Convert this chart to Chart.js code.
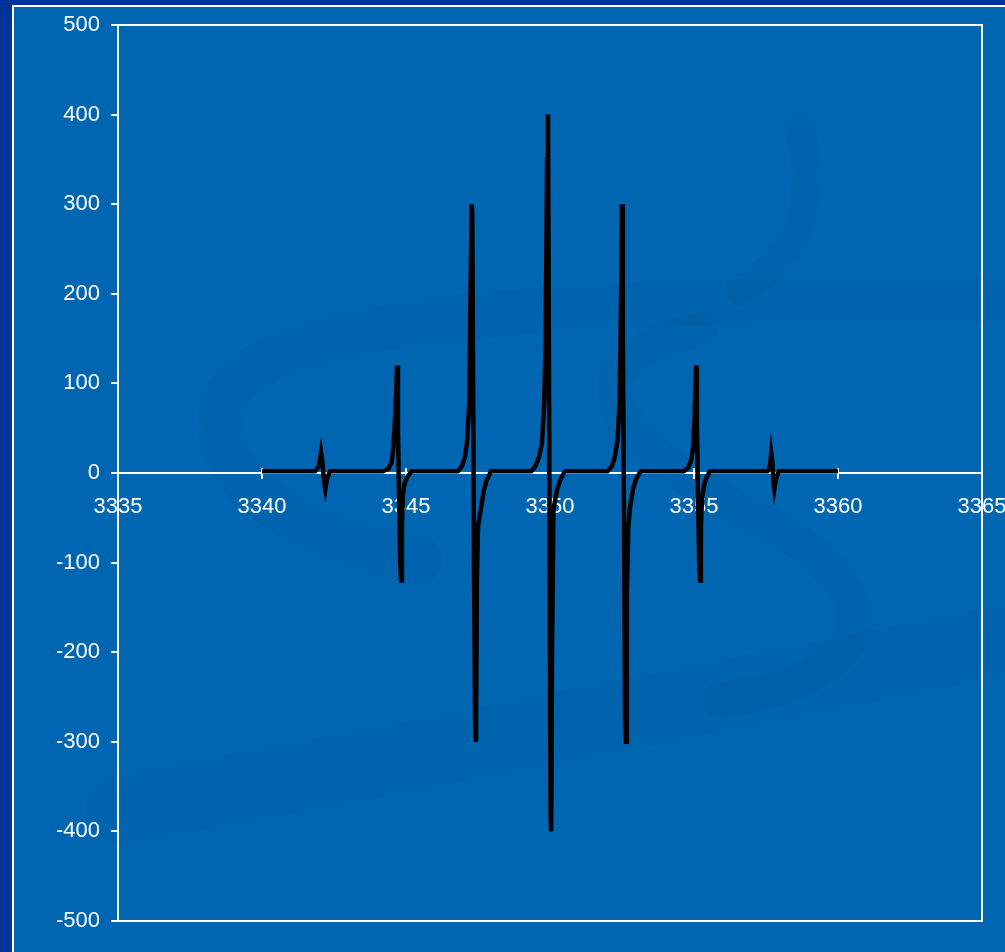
<!DOCTYPE html>
<html>
<head>
<meta charset="utf-8">
<script src="https://cdn.jsdelivr.net/npm/chart.js@4.4.1/dist/chart.umd.min.js"></script>
<style>
html, body { margin: 0; padding: 0; background: #00339a; }
</style>
</head>
<body>
<canvas id="epr" width="1005" height="952"></canvas>
<script>
// magnetic field (x) and signal (y)
var field = [
  3340,
  3341.85, 3341.98, 3342.05, 3342.10, 3342.15, 3342.20, 3342.26, 3342.36,
  3344.20, 3344.40, 3344.50, 3344.56, 3344.62, 3344.66, 3344.69, 3344.72, 3344.76, 3344.80, 3344.83, 3344.86, 3344.89, 3344.95, 3345.05, 3345.20,
  3346.80, 3346.95, 3347.05, 3347.12, 3347.20, 3347.24, 3347.28, 3347.30, 3347.33, 3347.37, 3347.40, 3347.43, 3347.46, 3347.50, 3347.60, 3347.70, 3347.80, 3347.95,
  3349.35, 3349.50, 3349.62, 3349.72, 3349.80, 3349.85, 3349.90, 3349.93, 3349.96, 3349.99, 3350.02, 3350.04, 3350.07, 3350.12, 3350.25, 3350.38, 3350.52,
  3352.00, 3352.15, 3352.25, 3352.35, 3352.42, 3352.47, 3352.50, 3352.53, 3352.57, 3352.61, 3352.64, 3352.67, 3352.72, 3352.78, 3352.88, 3353.00, 3353.15,
  3354.65, 3354.80, 3354.90, 3354.97, 3355.02, 3355.05, 3355.07, 3355.10, 3355.14, 3355.18, 3355.21, 3355.24, 3355.28, 3355.36, 3355.45, 3355.56,
  3357.55, 3357.64, 3357.68, 3357.72, 3357.76, 3357.79, 3357.85, 3357.95,
  3360
];
var signal = [
  2,
  2, 8, 23, 12, -8, -18, -6, 2,
  2, 5, 12, 28, 60, 90, 120, 50, -30, -100, -120, -60, -25, -12, -4, 2,
  2, 8, 18, 35, 80, 200, 300, 290, 100, -150, -280, -300, -120, -60, -40, -20, -8, 2,
  2, 8, 18, 33, 80, 150, 350, 400, 150, -100, -380, -400, -200, -40, -18, -6, 2,
  2, 8, 18, 38, 80, 200, 300, 150, -50, -280, -300, -130, -60, -38, -18, -6, 2,
  2, 6, 14, 29, 60, 100, 120, 60, -30, -100, -120, -60, -27, -12, -4, 2,
  2, 8, 22, 12, -10, -18, -6, 2,
  2
];
var xTicks = [3335, 3340, 3345, 3350, 3355, 3360, 3365];
var yTicks = [-500, -400, -300, -200, -100, 0, 100, 200, 300, 400, 500];

var points = field.map(function (f, i) { return { x: f, y: signal[i] }; });
var font = { family: "'Liberation Sans', Arial, sans-serif", size: 22 };

// slide background: dark edge, blue panel, faint swooshes, white frame
var background = {
  id: 'background',
  beforeDraw: function (chart) {
    var c = chart.ctx;
    c.save();
    c.fillStyle = '#00339a';
    c.fillRect(0, 0, chart.width, chart.height);
    c.fillStyle = '#0066b2';
    c.fillRect(12, 5, chart.width - 12, chart.height - 5);

    c.strokeStyle = 'rgba(0, 45, 110, 0.06)';
    c.lineCap = 'round';
    c.lineWidth = 45;
    c.beginPath();
    c.moveTo(1005, 300);
    c.bezierCurveTo(700, 300, 260, 300, 225, 400);
    c.bezierCurveTo(200, 480, 300, 540, 420, 560);
    c.stroke();
    c.lineWidth = 35;
    c.beginPath();
    c.moveTo(700, 330);
    c.bezierCurveTo(560, 360, 600, 440, 760, 520);
    c.bezierCurveTo(900, 590, 880, 680, 720, 700);
    c.stroke();
    c.lineWidth = 70;
    c.beginPath();
    c.moveTo(120, 810);
    c.bezierCurveTo(400, 760, 700, 700, 1005, 640);
    c.stroke();
    c.lineWidth = 30;
    c.beginPath();
    c.moveTo(800, 130);
    c.bezierCurveTo(820, 220, 790, 260, 740, 290);
    c.stroke();

    c.strokeStyle = '#ffffff';
    c.lineWidth = 2;
    c.strokeRect(13, 6, chart.width + 10, chart.height + 10);
    c.restore();
  }
};

// plot box and x ticks crossing the zero line
var frame = {
  id: 'frame',
  beforeDatasetsDraw: function (chart) {
    var c = chart.ctx, a = chart.chartArea;
    var xs = chart.scales.x, ys = chart.scales.y;
    c.save();
    c.strokeStyle = '#ffffff';
    c.lineWidth = 2;
    c.beginPath();
    c.moveTo(a.left, a.top);
    c.lineTo(a.right, a.top);
    c.lineTo(a.right, a.bottom);
    c.lineTo(a.left, a.bottom);
    c.stroke();
    var y0 = ys.getPixelForValue(0);
    xTicks.forEach(function (v) {
      var px = xs.getPixelForValue(v);
      c.beginPath();
      c.moveTo(px, y0 - 5);
      c.lineTo(px, y0 + 6);
      c.stroke();
    });
    c.restore();
  }
};

new Chart(document.getElementById('epr'), {
  type: 'scatter',
  data: {
    datasets: [{
      data: points,
      showLine: true,
      borderColor: '#000000',
      borderWidth: 4.5,
      pointRadius: 0,
      tension: 0
    }]
  },
  options: {
    responsive: false,
    animation: false,
    layout: { padding: { top: 25, right: 23, bottom: 31, left: 0 } },
    plugins: { legend: { display: false }, tooltip: { enabled: false } },
    scales: {
      x: {
        type: 'linear',
        min: 3335,
        max: 3365,
        position: { y: 0 },
        afterBuildTicks: function (s) { s.ticks = xTicks.map(function (v) { return { value: v }; }); },
        afterFit: function (s) { s.paddingLeft = 0; s.paddingRight = 0; },
        grid: { display: true, drawOnChartArea: false, drawTicks: false },
        border: { color: '#ffffff', width: 2 },
        ticks: {
          color: '#ffffff',
          font: font,
          padding: 21,
          maxRotation: 0,
          autoSkip: false,
          callback: function (v) { return String(v); }
        }
      },
      y: {
        type: 'linear',
        min: -500,
        max: 500,
        afterFit: function (s) { s.width = 118; },
        afterBuildTicks: function (s) { s.ticks = yTicks.map(function (v) { return { value: v }; }); },
        grid: { drawOnChartArea: false, color: '#ffffff', lineWidth: 2, tickLength: 7 },
        border: { color: '#ffffff', width: 2 },
        ticks: {
          color: '#ffffff',
          font: font,
          padding: 11,
          callback: function (v) { return String(v); }
        }
      }
    }
  },
  plugins: [background, frame]
});
</script>
</body>
</html>
